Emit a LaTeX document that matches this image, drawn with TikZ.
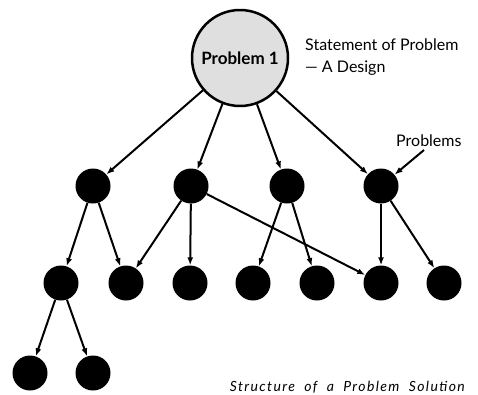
\documentclass[tikz,border=0pt]{standalone}
\usepackage{fontspec}
\setmainfont{Lato}
\usetikzlibrary{arrows.meta}
\begin{document}
\begin{tikzpicture}[x=1pt,y=-1pt,
  dot/.style={circle,fill=black,minimum size=35pt,inner sep=0pt},
  arr/.style={line width=2pt,-{Latex[length=8pt,width=6pt]}},
  lbl/.style={font=\fontsize{16}{20}\selectfont,inner sep=0pt}]
\useasboundingbox (0,0) rectangle (478,394);
\node[draw,line width=2.5pt,fill=gray!25,circle,minimum size=96pt,inner sep=0pt] (p1) at (240,58) {\fontsize{17}{20}\selectfont\bfseries Problem 1};
% level 2
\node[dot] (a) at (93,186) {};
\node[dot] (b) at (191,186) {};
\node[dot] (c) at (287,186) {};
\node[dot] (d) at (381,186) {};
% level 3
\node[dot] (e) at (61,283) {};
\node[dot] (f) at (126,283) {};
\node[dot] (g) at (190,283) {};
\node[dot] (h) at (253,283) {};
\node[dot] (i) at (317,283) {};
\node[dot] (j) at (381,283) {};
\node[dot] (k) at (444,283) {};
% level 4
\node[dot] (l) at (30,373) {};
\node[dot] (m) at (93,373) {};
% edges
\draw[arr] (p1) -- (a);
\draw[arr] (p1) -- (b);
\draw[arr] (p1) -- (c);
\draw[arr] (p1) -- (d);
\draw[arr] (a) -- (e);
\draw[arr] (a) -- (f);
\draw[arr] (b) -- (f);
\draw[arr] (b) -- (g);
\draw[arr] (b) -- (j);
\draw[arr] (c) -- (h);
\draw[arr] (c) -- (i);
\draw[arr] (d) -- (j);
\draw[arr] (d) -- (k);
\draw[arr] (e) -- (l);
\draw[arr] (e) -- (m);
% labels
\node[lbl,anchor=base west] (st) at (305,50) {Statement of Problem};
\node[lbl,anchor=base west] (ad) at (305,72) {— A Design};
\node[lbl,anchor=base west] (probs) at (396,146) {Problems};
\coordinate (ps) at (424,150);
\draw[arr] (ps) -- (d);
\node[anchor=base east,inner sep=0pt,font=\fontsize{14}{16}\selectfont\itshape\addfontfeature{LetterSpace=10}] (cap) at (465,391) {Structure\ \ of\ \ a\ \ Problem\ \ Solution};
\end{tikzpicture}
\end{document}
